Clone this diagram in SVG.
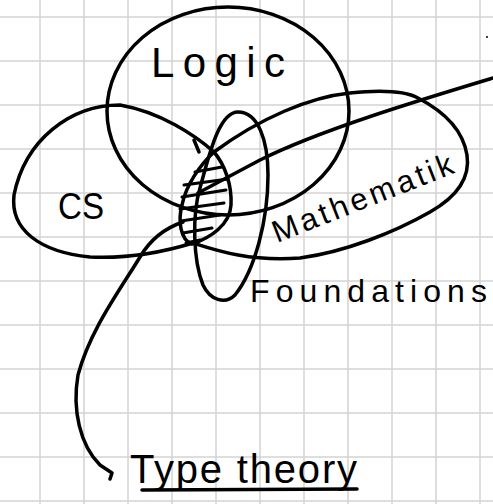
<svg xmlns="http://www.w3.org/2000/svg" width="493" height="504" viewBox="0 0 493 504">
  <style>
    .grid { stroke: #d4d4d4; stroke-width: 1.5; fill: none; }
    .ink { stroke: #000; stroke-width: 3.5; fill: none; stroke-linecap: round; stroke-linejoin: round; }
    .hatch { stroke: #000; stroke-width: 3; fill: none; stroke-linecap: round; }
    .lbl { font-family: "Liberation Sans", "DejaVu Sans", sans-serif; fill: #000; }
  </style>
  <rect width="493" height="504" fill="#fff"/>
  <path class="grid" d="M40,0V504M84,0V504M128,0V504M172,0V504M216,0V504M260,0V504M304,0V504M348,0V504M392,0V504M436,0V504M480,0V504M0,17H493M0,61H493M0,105H493M0,149H493M0,193H493M0,237H493M0,281H493M0,325H493M0,369H493M0,413H493M0,457H493M0,501H493"/>

  <g id="logic">
    <ellipse class="ink" cx="228" cy="111" rx="121" ry="104"/>
    <text class="lbl" x="151" y="77" font-size="42" textLength="134" lengthAdjust="spacing">Logic</text>
  </g>

  <g id="cs-mathematik">
    <path class="ink" d="M214,152 C195,135 160,112 120,105 C70,105 25,140 14,195 C10,230 40,252 90,257 C130,259 170,250 193,243 C215,250 250,262 300,258 C345,252 395,232 430,212 C460,195 470,175 467,155 C463,130 445,112 418,98 C405,91 380,90 350,93 C310,97 260,118 214,152 Z"/>
    <path class="ink" d="M194,140 L199,152"/>
    <text class="lbl" x="58" y="219" font-size="36" textLength="46" lengthAdjust="spacingAndGlyphs">CS</text>
    <text class="lbl" x="0" y="0" font-size="31" textLength="192" lengthAdjust="spacing" transform="translate(277,243) rotate(-21.5)">Mathematik</text>
  </g>

  <g id="foundations">
    <path class="ink" d="M238,112 C258,112 268,140 268,175 C268,220 255,270 235,295 C225,305 210,300 203,285 C193,260 192,215 200,188 C208,160 218,112 238,112 Z"/>
    <text class="lbl" x="250" y="302" font-size="32" textLength="237" lengthAdjust="spacing">Foundations</text>
  </g>

  <g id="intersection">
    <path class="ink" d="M214,152 C225,165 232,185 231,205 C230,225 210,238 192,244 C180,240 178,220 182,205 C186,185 200,165 214,152 Z"/>
    <path class="hatch" d="M195,172L222,167M184,185L228,179M182,197L226,190M180,209L224,203M181,221L220,215M183,233L212,228M186,243L200,240"/>
  </g>

  <g id="typetheory">
    <text class="lbl" x="130" y="483" font-size="40" textLength="227" lengthAdjust="spacing">Type theory</text>
    <path class="ink" d="M142,490 L357,489"/>
  </g>

  <g id="connectors">
    <path class="ink" d="M493,78 C420,100 320,130 260,160 L198,193"/>
    <path class="ink" d="M183,222 C165,228 150,240 140,257 C120,290 90,330 78,375 C72,410 80,445 100,465 L112,473 L110,479"/>
  </g>
  <circle cx="487" cy="37" r="1" fill="#000"/>
</svg>
